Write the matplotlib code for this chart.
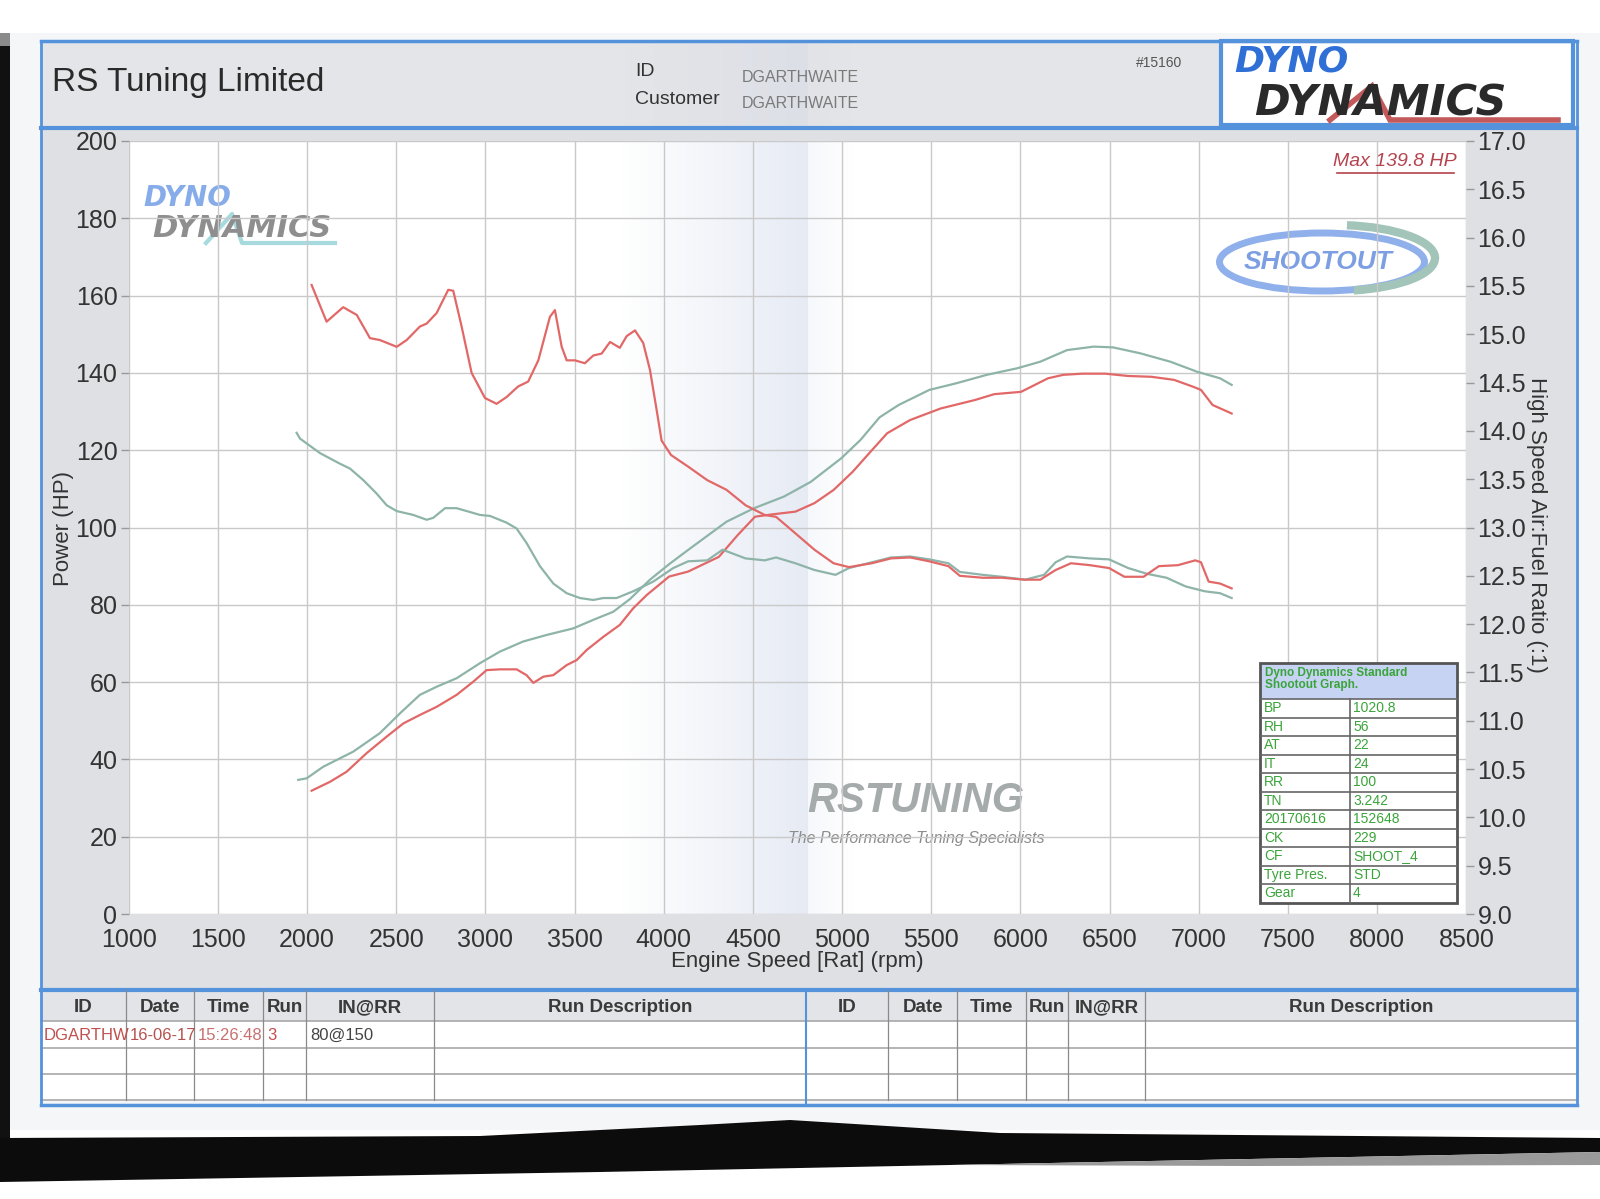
import numpy as np
import matplotlib
matplotlib.use("Agg")
from matplotlib import pyplot as plt
from matplotlib.patches import Rectangle, Ellipse, Arc, Polygon

plt.rcParams['font.family'] = ['Liberation Sans', 'DejaVu Sans']

# power curves (HP)
hp_grn_rpm = [1951, 1998, 2091, 2259, 2409, 2521, 2633, 2727, 2839, 2970,
              3082, 3212, 3344, 3493, 3605, 3717, 3811, 3923, 4030, 4137,
              4352, 4507, 4674, 4824, 4995, 5102, 5210, 5317, 5489, 5639,
              5811, 5982, 6111, 6261, 6411, 6519, 6669, 6840, 6990, 7119, 7184]
hp_grn = [34.7, 35.1, 38.1, 42.0, 46.8, 51.9, 56.7, 58.8, 61.0, 64.9,
          67.9, 70.5, 72.2, 73.9, 76.1, 78.2, 81.5, 86.5, 90.5, 94.2,
          101.5, 105.0, 108.0, 111.8, 117.9, 122.6, 128.5, 131.7, 135.6, 137.3,
          139.5, 141.2, 142.9, 145.9, 146.8, 146.6, 145.1, 142.9, 140.3, 138.6, 136.9]

hp_red_rpm = [2026, 2129, 2222, 2334, 2447, 2540, 2633, 2727, 2839, 2932,
              3007, 3082, 3175, 3231, 3269, 3325, 3381, 3456, 3512, 3568,
              3661, 3754, 3829, 3904, 4030, 4137, 4309, 4416, 4512, 4609,
              4738, 4845, 4952, 5059, 5167, 5253, 5381, 5553, 5746, 5853,
              6003, 6068, 6154, 6240, 6347, 6475, 6604, 6733, 6861, 6969,
              7012, 7077, 7184]
hp_red = [31.9, 34.2, 36.8, 41.6, 45.9, 49.3, 51.5, 53.6, 56.7, 60.1,
          63.1, 63.3, 63.3, 61.8, 59.8, 61.4, 61.8, 64.4, 65.7, 68.3,
          71.7, 74.8, 79.1, 82.5, 87.3, 88.6, 92.4, 98.1, 102.8, 103.4,
          104.1, 106.3, 109.7, 114.4, 120.0, 124.4, 127.8, 130.8, 133.0, 134.5,
          135.1, 136.6, 138.6, 139.5, 139.8, 139.8, 139.2, 139.0, 138.2, 136.4,
          135.6, 131.7, 129.5]

# air:fuel ratio curves
afr_red_rpm = [2026, 2110, 2203, 2279, 2353, 2409, 2503, 2559, 2633, 2671,
               2727, 2792, 2820, 2867, 2923, 2998, 3063, 3119, 3184, 3240,
               3297, 3362, 3390, 3428, 3456, 3502, 3558, 3605, 3652, 3699,
               3754, 3792, 3839, 3885, 3923, 3960, 3988, 4041, 4137, 4244,
               4352, 4459, 4566, 4630, 4738, 4845, 4952, 5038, 5167, 5274,
               5381, 5489, 5596, 5660, 5789, 5896, 6025, 6111, 6197, 6283,
               6390, 6497, 6583, 6690, 6776, 6883, 6980, 7012, 7055, 7119, 7184]
afr_red = [15.51, 15.13, 15.28, 15.20, 14.96, 14.94, 14.87, 14.94, 15.08, 15.11,
           15.22, 15.46, 15.45, 15.08, 14.60, 14.34, 14.28, 14.35, 14.46, 14.51,
           14.73, 15.18, 15.25, 14.87, 14.73, 14.73, 14.70, 14.78, 14.80, 14.92,
           14.86, 14.98, 15.04, 14.91, 14.63, 14.22, 13.90, 13.75, 13.63, 13.49,
           13.39, 13.23, 13.13, 13.11, 12.94, 12.77, 12.63, 12.59, 12.63, 12.68,
           12.69, 12.65, 12.60, 12.50, 12.48, 12.48, 12.46, 12.46, 12.56, 12.63,
           12.61, 12.58, 12.49, 12.49, 12.60, 12.61, 12.66, 12.64, 12.44, 12.42, 12.37]

afr_grn_rpm = [1942, 1961, 2073, 2185, 2241, 2316, 2391, 2447, 2503, 2596,
               2671, 2708, 2774, 2839, 2914, 2970, 3026, 3119, 3175, 3231,
               3306, 3381, 3456, 3530, 3605, 3661, 3736, 3829, 3941, 4053,
               4137, 4244, 4330, 4373, 4459, 4566, 4630, 4738, 4845, 4963,
               5038, 5167, 5274, 5381, 5489, 5596, 5660, 5789, 5896, 6025,
               6132, 6197, 6261, 6390, 6497, 6604, 6711, 6819, 6926, 7033, 7119, 7184]
afr_grn = [13.98, 13.92, 13.77, 13.66, 13.61, 13.49, 13.35, 13.23, 13.17, 13.13,
           13.08, 13.10, 13.20, 13.20, 13.16, 13.13, 13.12, 13.05, 12.99, 12.84,
           12.60, 12.42, 12.32, 12.27, 12.25, 12.27, 12.27, 12.34, 12.44, 12.58,
           12.65, 12.66, 12.77, 12.74, 12.68, 12.66, 12.69, 12.63, 12.56, 12.51,
           12.58, 12.64, 12.69, 12.70, 12.67, 12.63, 12.54, 12.51, 12.49, 12.46,
           12.51, 12.64, 12.70, 12.68, 12.67, 12.58, 12.52, 12.48, 12.39, 12.34, 12.32, 12.27]

rpm_ticks = list(range(1000, 8501, 500))
hp_ticks = list(range(0, 201, 20))
afr_ticks = [9.0 + 0.5 * i for i in range(17)]

info_labels = ["BP", "RH", "AT", "IT", "RR", "TN", "20170616", "CK", "CF", "Tyre Pres.", "Gear"]
info_values = ["1020.8", "56", "22", "24", "100", "3.242", "152648", "229", "SHOOT_4", "STD", "4"]

run_headers = ["ID", "Date", "Time", "Run", "IN@RR", "Run Description"]
run_row = ["DGARTHW", "16-06-17", "15:26:48", "3", "80@150"]

RED = '#e26868'
GRN = '#8eb4a9'
BLUE = '#5592dc'
GRID = '#c9c9c9'
TXT = '#333333'

W, H = 1600, 1199
fig = plt.figure(figsize=(16, 11.99), dpi=100)
fig.patch.set_facecolor('white')

# page layer in pixel coordinates
pa = fig.add_axes([0, 0, 1, 1])
pa.set_zorder(0)
pa.axis('off')

def rect(ax, x0, y0, x1, y1, **kw):
    ax.add_patch(Rectangle((x0, y0), x1 - x0, y1 - y0, **kw))

rect(pa, 10, 33, 1600, 1130, facecolor='#f5f6f8', edgecolor='none')
# header
rect(pa, 41, 41, 1221, 128, facecolor='#e4e5e8', edgecolor='none')
rect(pa, 1221, 41, 1573, 125, facecolor='white', edgecolor=BLUE, lw=3)
pa.plot([41, 1577], [41, 41], color=BLUE, lw=2.5)
pa.plot([41, 1577], [128, 128], color=BLUE, lw=3)
pa.plot([41, 41], [41, 990], color=BLUE, lw=2)
pa.plot([1577, 1577], [41, 990], color=BLUE, lw=2)
# grey frame around plot
rect(pa, 42, 129, 1576, 989, facecolor='#dfe0e4', edgecolor='none')
rect(pa, 128.6, 141, 1466.4, 914, facecolor='white', edgecolor='none')

# fold shading down the middle
grad = np.zeros((1, 260, 4))
xs = np.linspace(600, 860, 260)
grad[..., 0] = 0.72
grad[..., 1] = 0.77
grad[..., 2] = 0.88
alpha = np.clip((xs - 620) / 190, 0, 1) * 0.35
alpha[xs > 808] = np.clip(0.12 - (xs[xs > 808] - 808) / 400, 0, 1)
grad[0, :, 3] = alpha
pa.imshow(grad, extent=[600, 860, 914, 141], aspect='auto', zorder=1)
grad2 = grad.copy()
grad2[0, :, 3] = alpha * 0.5
pa.imshow(grad2, extent=[600, 860, 128, 41], aspect='auto', zorder=1)

pa.text(52, 82, "RS Tuning Limited", fontsize=24, color='#2a2a2a', va='center', ha='left')
pa.text(635, 71, "ID", fontsize=14, color=TXT, va='center')
pa.text(635, 100, "Customer", fontsize=14, color=TXT, va='center')
pa.text(742, 77, "DGARTHWAITE", fontsize=11.5, color='#7a7a7a', va='center')
pa.text(742, 103, "DGARTHWAITE", fontsize=11.5, color='#7a7a7a', va='center')
pa.text(1136, 63, "#15160", fontsize=10, color='#555555', va='center')

# header logo
pa.text(1234, 72, "DYNO", fontsize=26, fontweight='bold', style='italic', color='#2f6fd6',
        va='baseline', family='DejaVu Sans')
pa.text(1254, 116, "DYNAMICS", fontsize=31, fontweight='bold', style='italic', color='#2a2a2a',
        va='baseline', family='DejaVu Sans')
pa.plot([1330, 1372, 1390, 1558], [120, 86, 120, 120], color='#c25a5c', lw=4, solid_joinstyle='miter')

# watermarks inside the plot
pa.text(143, 206, "DYNO", fontsize=20, fontweight='bold', style='italic', color='#86acea',
        va='baseline', family='DejaVu Sans')
pa.text(152, 237, "DYNAMICS", fontsize=22, fontweight='bold', style='italic', color='#8e8e8e',
        va='baseline', family='DejaVu Sans')
pa.plot([206, 232, 242, 335], [243, 214, 243, 243], color='#a6dade', lw=3)

pa.add_patch(Ellipse((1322, 262), 205, 58, fill=False, edgecolor='#8fb0ea', lw=5))
pa.add_patch(Arc((1335, 258), 200, 66, theta1=-70, theta2=60, edgecolor='#a3c4b8', lw=6))
pa.text(1318, 262, "SHOOTOUT", fontsize=19, fontweight='bold', style='italic', color='#7c9ee2', ha='center', va='center')

pa.text(916, 801, "RSTUNING", fontsize=30, fontweight='bold', style='italic', color='#a5aaaa', ha='center', va='center')
pa.text(916, 838, "The Performance Tuning Specialists", fontsize=11.5, style='italic', color='#8c8c8c', ha='center', va='center')

# bottom run table
pa.plot([41, 1577], [990, 990], color=BLUE, lw=3)
rect(pa, 42, 992, 1576, 1021, facecolor='#e3e4e7', edgecolor='none')
rect(pa, 42, 1021, 1576, 1101, facecolor='white', edgecolor='none')
for yy in [1021, 1048, 1074, 1100]:
    pa.plot([41, 1577], [yy, yy], color='#a8a8a8', lw=1.2)
pa.plot([41, 1577], [1105, 1105], color=BLUE, lw=2.5)
pa.plot([41, 41], [990, 1105], color=BLUE, lw=2)
pa.plot([1577, 1577], [990, 1105], color=BLUE, lw=2)
left_cols = [41, 125.5, 194, 263, 306, 434, 806]
right_cols = [806, 888, 957, 1025.5, 1068, 1145, 1577]
for cols in (left_cols, right_cols):
    for xx in cols[1:-1]:
        pa.plot([xx, xx], [990, 1100], color='#8a8a8a', lw=0.9)
    for i, name in enumerate(run_headers):
        pa.text((cols[i] + cols[i + 1]) / 2, 1008, name, fontsize=13.5,
                color='#3a3a3a', ha='center', va='center', fontweight='bold')
pa.plot([806, 806], [990, 1105], color=BLUE, lw=1.5)
row_colors = ['#c0504d', '#b5524f', '#c87070', '#c0504d', '#444444']
for i, val in enumerate(run_row):
    if i == 0:
        pa.text(44, 1035, val, fontsize=12, color=row_colors[i], ha='left', va='center')
    else:
        pa.text(left_cols[i] + 4, 1035, val, fontsize=12, color=row_colors[i], ha='left', va='center')

# scanner edges
rect(pa, 0, 33, 10, 1140, facecolor='#111111', edgecolor='none')
rect(pa, 0, 33, 10, 46, facecolor='#8a8a8a', edgecolor='none')
pa.add_patch(Polygon([(0, 1138), (480, 1136), (700, 1125), (790, 1120), (1000, 1133),
                      (1600, 1138), (1600, 1152), (1000, 1164), (600, 1172), (0, 1182)],
                     closed=True, facecolor='#0c0c0c', edgecolor='none'))
pa.add_patch(Polygon([(950, 1165), (1600, 1152), (1600, 1165), (1250, 1166)],
                     closed=True, facecolor='#9a9a9a', edgecolor='none'))
pa.set_xlim(0, W)
pa.set_ylim(H, 0)

# the chart itself
ax = fig.add_axes([128.6 / W, 1 - 914 / H, 1337.8 / W, 773 / H])
ax.set_zorder(2)
ax.patch.set_visible(False)
ax.set_xlim(1000, 8500)
ax.set_ylim(0, 200)
ax.set_xticks(rpm_ticks)
ax.set_yticks(hp_ticks)
ax.grid(True, color=GRID, lw=1)
for s in ax.spines.values():
    s.set_visible(False)
ax.tick_params(axis='y', direction='out', length=6, width=1, color='#999999',
               labelsize=18, labelcolor=TXT, pad=2)
ax.tick_params(axis='x', length=0, labelsize=18, labelcolor=TXT, pad=10)
ax.plot(hp_grn_rpm, hp_grn, color=GRN, lw=1.6)
ax.plot(hp_red_rpm, hp_red, color=RED, lw=1.6)

ax2 = ax.twinx()
ax2.set_ylim(9, 17)
ax2.set_yticks(afr_ticks)
ax2.set_yticklabels(["%.1f" % t for t in afr_ticks])
for s in ax2.spines.values():
    s.set_visible(False)
ax2.tick_params(axis='y', direction='out', length=6, width=1, color='#999999',
                labelsize=18, labelcolor=TXT, pad=2)
ax2.plot(afr_grn_rpm, afr_grn, color=GRN, lw=1.6)
ax2.plot(afr_red_rpm, afr_red, color=RED, lw=1.6)

fig.text(63 / W, 1 - 528 / H, "Power (HP)", rotation=90, fontsize=16, color=TXT, ha='center', va='center')
fig.text(797 / W, 1 - 962 / H, "Engine Speed [Rat] (rpm)", fontsize=16, color=TXT, ha='center', va='center')
fig.text(1536 / W, 1 - 525 / H, "High Speed Air:Fuel Ratio (:1)", rotation=270, fontsize=16, color=TXT, ha='center', va='center')

# overlay for things on top of the grid
ov = fig.add_axes([0, 0, 1, 1])
ov.set_zorder(3)
ov.patch.set_visible(False)
ov.axis('off')
ov.text(1395, 161, "Max 139.8 HP", fontsize=14, style='italic', color='#b5434d', ha='center', va='center')
ov.plot([1337, 1454], [173, 173], color='#b5434d', lw=1.2)

tx0, tx1, txm = 1260, 1457, 1350
ty0, ty_hdr, row_h = 663, 699, 18.5
rect(ov, tx0, ty0, tx1, ty_hdr, facecolor='#c6d3f2', edgecolor='none')
rect(ov, tx0, ty_hdr, tx1, ty_hdr + row_h * len(info_labels), facecolor='white', edgecolor='none')
ov.text(tx0 + 5, ty0 + 4, "Dyno Dynamics Standard\nShootout Graph.", fontsize=8.5, fontweight='bold',
        color='#3aa43a', va='top', ha='left', linespacing=0.95)
for i, (lab, val) in enumerate(zip(info_labels, info_values)):
    yy = ty_hdr + row_h * i
    ov.plot([tx0, tx1], [yy, yy], color='#666666', lw=1.2)
    ov.text(tx0 + 4, yy + row_h / 2, lab, fontsize=10, color='#3aa43a', va='center', ha='left')
    ov.text(txm + 3, yy + row_h / 2, val, fontsize=10, color='#3aa43a', va='center', ha='left')
ty1 = ty_hdr + row_h * len(info_labels)
ov.plot([txm, txm], [ty_hdr, ty1], color='#666666', lw=1.2)
rect(ov, tx0, ty0, tx1, ty1, facecolor='none', edgecolor='#555555', lw=2)
ov.set_xlim(0, W)
ov.set_ylim(H, 0)

fig.savefig("out.png", dpi=100)
